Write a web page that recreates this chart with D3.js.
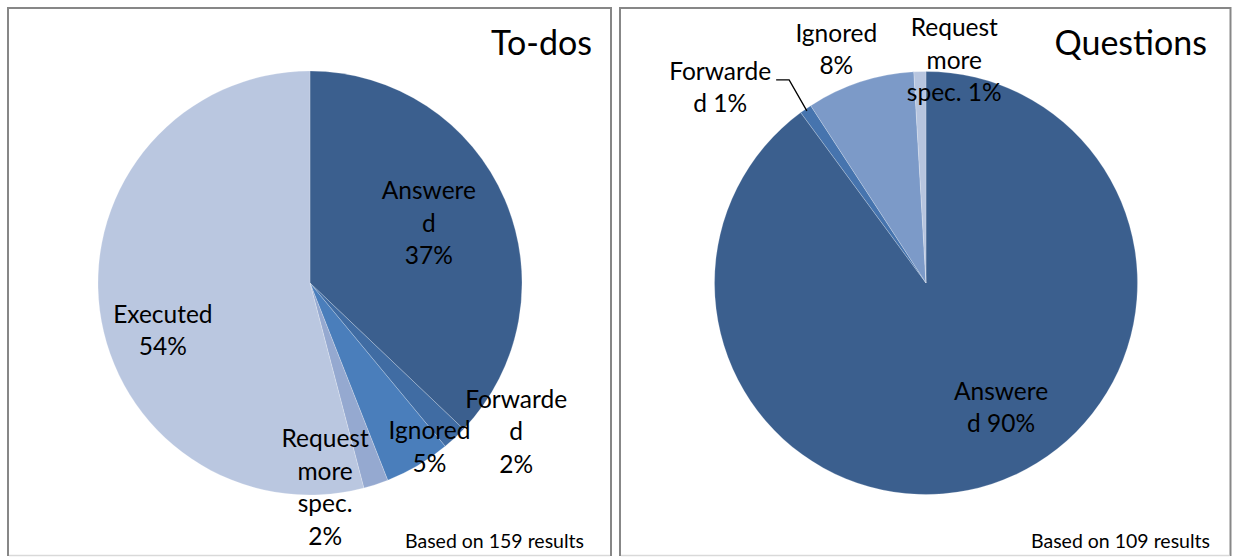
<!DOCTYPE html>
<html>
<head>
<meta charset="utf-8">
<script src="https://cdn.jsdelivr.net/npm/d3@7"></script>
<style>
    body { margin: 0; background: #ffffff; }
    svg { display: block; }
    text { font-family: Lato, "Open Sans", sans-serif; fill: #000000; }
</style>
</head>
<body>
<svg id="chart" width="1233" height="557"></svg>
<script>
'use strict';

// ============================================================
//  Two pie charts: how to-dos and questions were handled
// ============================================================

// ── Data ─────────────────────────────────────────────────────
const todoCategories = ['Answered', 'Forwarded', 'Ignored', 'Request more spec.', 'Executed'];
const todoCounts     = [59, 3, 8, 3, 86];           // 159 results
const todoLabelLines = [
    ['Answere', 'd', '{p}'],
    ['Forwarde', 'd', '{p}'],
    ['Ignored', '{p}'],
    ['Request', 'more', 'spec.', '{p}'],
    ['Executed', '{p}']
];
const todoColours = ['#3b5f8e', '#406ca3', '#4a7ebb', '#95a9d0', '#bac7e0'];

const questionCategories = ['Answered', 'Forwarded', 'Ignored', 'Request more spec.'];
const questionCounts     = [98, 1, 9, 1];           // 109 results
const questionLabelLines = [
    ['Answere', 'd {p}'],
    ['Forwarde', 'd {p}'],
    ['Ignored', '{p}'],
    ['Request', 'more', 'spec. {p}']
];
const questionColours = ['#3b5f8e', '#4674ae', '#7c9ac8', '#b7c5df'];

// label placement: radius as share of pie radius, angular shift (deg)
const todoLabelPlacement = [
    { ratio: 0.626, shift: -3.2 },
    { ratio: 1.20, shift: -11.1 },
    { ratio: 0.96, shift: -5.4 },
    { ratio: 0.97, shift: 13.9 },
    { ratio: 0.73, shift: -10.7 }
];
const questionLabelPlacement = [
    { ratio: 0.69, shift: -12.8, leader: false },
    { ratio: 1.34, shift: -11.9, leader: true },
    { ratio: 1.18, shift: -2.9, leader: false },
    { ratio: 1.06, shift: 8.9, leader: false }
];

// ── Layout ──────────────────────────────────────────────────
const LABEL_SIZE = 24.5;
const LINE_H     = 32.5;
const fmtPct     = d3.format('.0%');

const svg = d3.select('#chart');

const panels = [
    {
        x0: 8, x1: 611, title: 'To-dos', note: 'Based on 159 results',
        cx: 310, cy: 283, r: 212, titleRight: 592, noteRight: 584,
        cats: todoCategories, counts: todoCounts, lines: todoLabelLines,
        colours: todoColours, place: todoLabelPlacement
    },
    {
        x0: 620, x1: 1230.5, title: 'Questions', note: 'Based on 109 results',
        cx: 926, cy: 283, r: 211.5, titleRight: 1207, noteRight: 1210,
        cats: questionCategories, counts: questionCounts, lines: questionLabelLines,
        colours: questionColours, place: questionLabelPlacement
    }
];

panels.forEach(drawPanel);

function drawPanel(p) {
    const g = svg.append('g');

    // frame — bottom edge is lighter, as in the cropped original
    g.append('path')
        .attr('d', `M${p.x0},556 V8 H${p.x1} V556`)
        .attr('fill', 'none')
        .attr('stroke', '#878787')
        .attr('stroke-width', 2);
    g.append('line')
        .attr('x1', p.x0 + 1).attr('x2', p.x1 - 1)
        .attr('y1', 555.5).attr('y2', 555.5)
        .attr('stroke', '#d9d9d9')
        .attr('stroke-width', 1.5);

    const total = d3.sum(p.counts);

    const pie = d3.pie().sort(null).value(d => d);
    const arcs = pie(p.counts);

    const arc = d3.arc().innerRadius(0).outerRadius(p.r);

    const chart = g.append('g')
        .attr('transform', `translate(${p.cx},${p.cy})`);

    chart.selectAll('path.slice')
        .data(arcs)
        .join('path')
        .attr('class', 'slice')
        .attr('d', arc)
        .attr('fill', (d, i) => p.colours[i])
        .attr('stroke', '#ffffff')
        .attr('stroke-opacity', 0.35)
        .attr('stroke-width', 0.6);

    // data labels
    arcs.forEach((d, i) => {
        const pl   = p.place[i];
        const mid  = (d.startAngle + d.endAngle) / 2;
        const ang  = mid + pl.shift * Math.PI / 180;
        const lx   = Math.sin(ang) * p.r * pl.ratio;
        const ly   = -Math.cos(ang) * p.r * pl.ratio;
        const pct  = fmtPct(d.value / total);
        const rows = p.lines[i].map(s => s.replace('{p}', pct));

        const firstBase = ly - (rows.length - 1) * LINE_H / 2 + 8;

        const txt = chart.append('text')
            .attr('text-anchor', 'middle')
            .attr('font-size', LABEL_SIZE);
        rows.forEach((row, k) => {
            txt.append('tspan')
                .attr('x', lx)
                .attr('y', firstBase + k * LINE_H)
                .text(row);
        });

        if (pl.leader) {
            const w = txt.select('tspan').node().getComputedTextLength();
            const sx = lx + w / 2 + 5;
            const sy = firstBase;
            const ex = Math.sin(mid) * p.r * 0.99;
            const ey = -Math.cos(mid) * p.r * 0.99;
            chart.append('polyline')
                .attr('points', `${sx},${sy} ${sx + 13},${sy} ${ex},${ey}`)
                .attr('fill', 'none')
                .attr('stroke', '#000000')
                .attr('stroke-width', 1.3);
        }
    });

    // title
    g.append('text')
        .attr('x', p.titleRight)
        .attr('y', 55)
        .attr('text-anchor', 'end')
        .attr('font-size', 34)
        .text(p.title);

    // footnote
    g.append('text')
        .attr('x', p.noteRight)
        .attr('y', 548)
        .attr('text-anchor', 'end')
        .attr('font-size', 19.5)
        .text(p.note);
}
</script>
</body>
</html>
